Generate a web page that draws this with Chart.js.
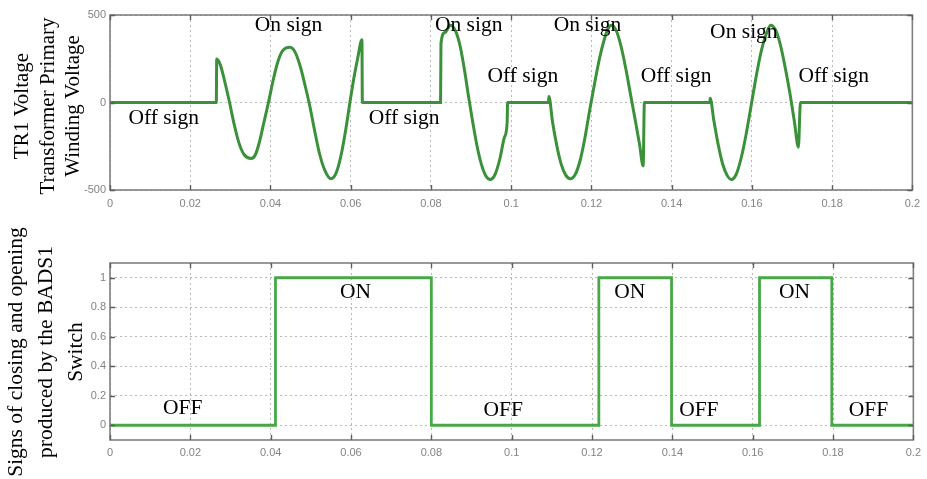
<!DOCTYPE html>
<html>
<head>
<meta charset="utf-8">
<script src="https://cdn.jsdelivr.net/npm/chart.js@4/dist/chart.umd.min.js"></script>
<style>
  html, body { margin: 0; padding: 0; background: #ffffff; }
  #wrap { position: relative; width: 927px; height: 479px; overflow: hidden; background: #ffffff; }
  canvas { position: absolute; left: 0; }
  #voltChart { top: 0; }
  #switchChart { top: 225px; }
</style>
</head>
<body>
<div id="wrap">
  <canvas id="voltChart" width="927" height="225"></canvas>
  <canvas id="switchChart" width="927" height="254"></canvas>
</div>
<script>
// ---- time axis (seconds) ----
const timeTicks = [0, 0.02, 0.04, 0.06, 0.08, 0.1, 0.12, 0.14, 0.16, 0.18, 0.2];
const timeTickLabels = ['0', '0.02', '0.04', '0.06', '0.08', '0.1', '0.12', '0.14', '0.16', '0.18', '0.2'];

// ---- TR1 primary winding voltage ----
const voltTicks = [-500, 0, 500];
const voltTickLabels = ['-500', '0', '500'];

const voltageTime = [
  0, 0.0265, 0.0266, 0.0275, 0.0287, 0.0298, 0.0310, 0.0322, 0.0335, 0.0352,
  0.0362, 0.0372, 0.0383, 0.0395, 0.0407, 0.0418, 0.0430, 0.0449,
  0.0462, 0.0475, 0.0487, 0.0498, 0.0510, 0.0522, 0.0535, 0.0551,
  0.0565, 0.0577, 0.0588, 0.0598, 0.0608, 0.0618, 0.0628, 0.0629,
  0.0824, 0.0825, 0.0835, 0.0849, 0.0862, 0.0873, 0.0884, 0.0894, 0.0904,
  0.0915, 0.0926, 0.0937, 0.0948, 0.0960, 0.0972, 0.0983, 0.0990, 0.0991,
  0.1093, 0.1094, 0.1103, 0.1114, 0.1125, 0.1136, 0.1147,
  0.1160, 0.1172, 0.1184, 0.1196, 0.1208, 0.1220, 0.1232, 0.1241, 0.1250,
  0.1262, 0.1274, 0.1286, 0.1298, 0.1310, 0.1320, 0.1329, 0.1332,
  0.1495, 0.1496, 0.1505, 0.1516, 0.1527, 0.1538, 0.1549,
  0.1561, 0.1573, 0.1585, 0.1598, 0.1610, 0.1622, 0.1634, 0.1647,
  0.1659, 0.1671, 0.1683, 0.1695, 0.1706, 0.1716, 0.1721, 0.2
];
const voltageValue = [
  0, 0, 248, 215, 110, 0, -130, -235, -300, -320,
  -300, -230, -120, 0, 130, 230, 295, 316,
  285, 200, 90, -20, -160, -290, -385, -436,
  -395, -290, -150, 0, 140, 260, 359, 0,
  0, 337, 400, 442, 405, 320, 180, 30, -110,
  -250, -355, -420, -440, -410, -320, -200, -110, 0,
  0, 35, -110, -250, -355, -415, -436,
  -410, -330, -200, -40, 110, 250, 360, 420, 442,
  410, 320, 190, 40, -110, -240, -362, 0,
  0, 25, -100, -240, -350, -415, -440,
  -410, -320, -190, -20, 140, 280, 380, 442,
  415, 330, 200, 50, -110, -256, 0, 0
];

const voltNoteText  = ['Off sign', 'On sign', 'Off sign', 'On sign', 'Off sign', 'On sign', 'Off sign', 'On sign', 'Off sign'];
const voltNoteTime  = [0.0134, 0.0445, 0.0733, 0.0894, 0.1029, 0.1190, 0.1411, 0.1580, 0.1804];
const voltNoteLevel = [-89, 443, -89, 443, 151, 443, 151, 403, 151];

// ---- BADS1 switch command ----
const switchTicks = [0, 0.2, 0.4, 0.6, 0.8, 1];
const switchTickLabels = ['0', '0.2', '0.4', '0.6', '0.8', '1'];

const switchTime  = [0, 0.0412, 0.0412, 0.0800, 0.0800, 0.1217, 0.1217, 0.1398, 0.1398, 0.1617, 0.1617, 0.1797, 0.1797, 0.2];
const switchState = [0, 0, 1, 1, 0, 0, 1, 1, 0, 0, 1, 1, 0, 0];

const switchNoteText  = ['OFF', 'ON', 'OFF', 'ON', 'OFF', 'ON', 'OFF'];
const switchNoteTime  = [0.0181, 0.0611, 0.0979, 0.1294, 0.1466, 0.1704, 0.1888];
const switchNoteLevel = [0.115, 0.899, 0.100, 0.899, 0.100, 0.899, 0.100];

const voltTitle = ['TR1 Voltage', 'Transformer Primary', 'Winding Voltage'];
const switchTitle = ['Signs of closing and opening', 'produced by the BADS1', 'Switch'];

// ---- shared styling helpers ----
const GRID = '#b9b9b9';
const TICK_FONT = { family: '"Liberation Sans", Arial, sans-serif', size: 11 };
const TICK_COLOR = '#838383';

function pairs(xs, ys) { return xs.map((x, i) => ({ x: x, y: ys[i] })); }

function fixedTicks(values) {
  return function (scale) { scale.ticks = values.map(v => ({ value: v })); };
}

// Frame box with inward tick marks, text notes and a rotated multi-line y title
function overlay(notes, title) {
  return {
    id: 'overlay',
    afterDatasetsDraw(chart) {
      const { ctx, chartArea: a, scales } = chart;
      const x = scales.x, y = scales.y;
      ctx.save();
      ctx.strokeStyle = '#7f7f7f';
      ctx.lineWidth = 1.6;
      ctx.strokeRect(a.left, a.top, a.right - a.left, a.bottom - a.top);
      ctx.strokeStyle = '#5e5e5e';
      ctx.lineWidth = 1.4;
      ctx.beginPath();
      x.ticks.forEach(t => {
        const px = Math.round(x.getPixelForValue(t.value)) + 0.5;
        ctx.moveTo(px, a.bottom); ctx.lineTo(px, a.bottom - 5);
        ctx.moveTo(px, a.top); ctx.lineTo(px, a.top + 5);
      });
      y.ticks.forEach(t => {
        const py = Math.round(y.getPixelForValue(t.value)) + 0.5;
        ctx.moveTo(a.left, py); ctx.lineTo(a.left + 5, py);
        ctx.moveTo(a.right, py); ctx.lineTo(a.right - 5, py);
      });
      ctx.stroke();

      ctx.fillStyle = '#000000';
      ctx.font = '21.5px "Liberation Serif", "Times New Roman", serif';
      ctx.textAlign = 'center';
      ctx.textBaseline = 'middle';
      notes.text.forEach((s, i) => {
        ctx.fillText(s, x.getPixelForValue(notes.t[i]), y.getPixelForValue(notes.v[i]));
      });
      ctx.restore();
    },
    afterDraw(chart) {
      const { ctx, chartArea: a } = chart;
      ctx.save();
      ctx.fillStyle = '#000000';
      ctx.font = title.size + 'px "Liberation Serif", "Times New Roman", serif';
      ctx.textAlign = 'center';
      ctx.textBaseline = 'alphabetic';
      const cy = (a.top + a.bottom) / 2 + title.shift;
      title.lines.forEach((s, i) => {
        ctx.save();
        ctx.translate(title.x0 + i * title.pitch, cy);
        ctx.rotate(-Math.PI / 2);
        ctx.fillText(s, 0, 0);
        ctx.restore();
      });
      ctx.restore();
    }
  };
}

function xScale(height, pad) {
  return {
    type: 'linear', min: 0, max: 0.2,
    afterBuildTicks: fixedTicks(timeTicks),
    afterFit: s => { s.height = height; },
    grid: { color: GRID, lineWidth: 1, drawTicks: false },
    border: { display: false, dash: [2, 3] },
    ticks: {
      padding: pad, color: TICK_COLOR, font: TICK_FONT, maxRotation: 0, autoSkip: false,
      callback: (v, i) => timeTickLabels[i]
    }
  };
}

function yScale(min, max, values, labels) {
  return {
    type: 'linear', min: min, max: max,
    afterBuildTicks: fixedTicks(values),
    afterFit: s => { s.width = 110; },
    grid: { color: GRID, lineWidth: 1, drawTicks: false },
    border: { display: false, dash: [2, 3] },
    ticks: {
      padding: 4, color: TICK_COLOR, font: TICK_FONT, autoSkip: false,
      callback: (v, i) => labels[i]
    }
  };
}

Chart.defaults.animation = false;

new Chart(document.getElementById('voltChart'), {
  type: 'line',
  data: {
    datasets: [{
      data: pairs(voltageTime, voltageValue),
      borderColor: '#3a913a',
      borderWidth: 3,
      pointRadius: 0,
      cubicInterpolationMode: 'monotone',
      fill: false
    }]
  },
  options: {
    responsive: false,
    animation: false,
    parsing: false,
    layout: { padding: { top: 15, right: 12, left: 0, bottom: 0 } },
    plugins: { legend: { display: false }, tooltip: { enabled: false } },
    scales: {
      x: xScale(35, 7),
      y: yScale(-500, 500, voltTicks, voltTickLabels)
    }
  },
  plugins: [overlay(
    { text: voltNoteText, t: voltNoteTime, v: voltNoteLevel },
    { lines: voltTitle, size: 21, x0: 28, pitch: 25.5, shift: 3.5 }
  )]
});

new Chart(document.getElementById('switchChart'), {
  type: 'line',
  data: {
    datasets: [{
      data: pairs(switchTime, switchState),
      borderColor: '#46a846',
      borderWidth: 2.8,
      pointRadius: 0,
      tension: 0,
      fill: false
    }]
  },
  options: {
    responsive: false,
    animation: false,
    parsing: false,
    layout: { padding: { top: 38, right: 12, left: 0, bottom: 0 } },
    plugins: { legend: { display: false }, tooltip: { enabled: false } },
    scales: {
      x: xScale(39, 6),
      y: yScale(-0.1, 1.1, switchTicks, switchTickLabels)
    }
  },
  plugins: [overlay(
    { text: switchNoteText, t: switchNoteTime, v: switchNoteLevel },
    { lines: switchTitle, size: 21.5, x0: 22, pitch: 30, shift: 0.5 }
  )]
});
</script>
</body>
</html>
